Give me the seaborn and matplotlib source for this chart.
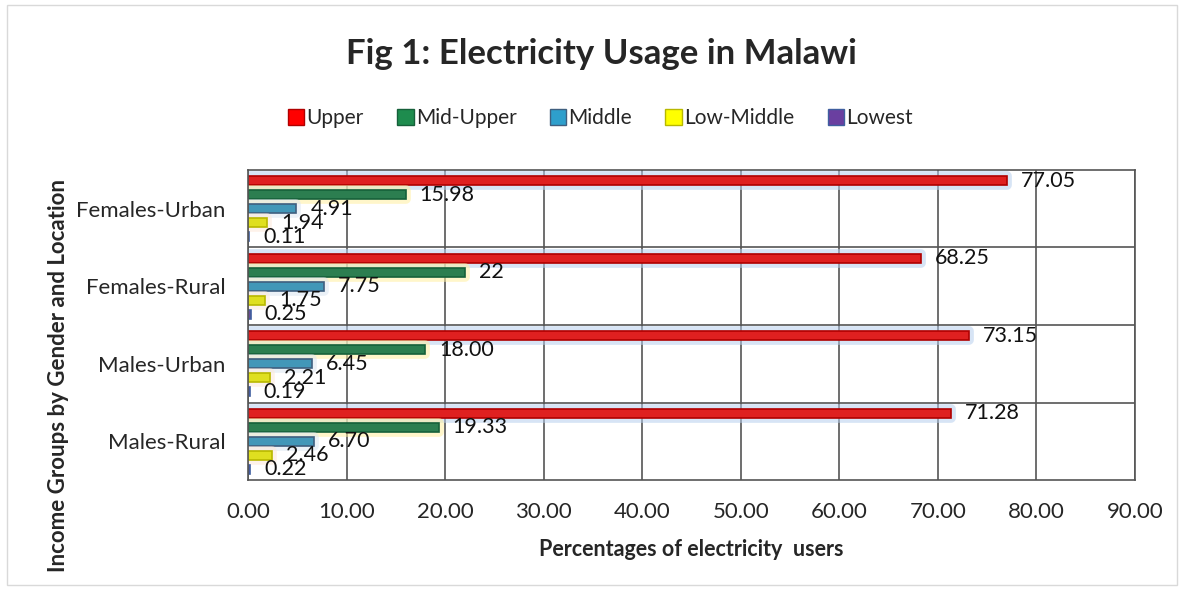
import pandas as pd
import seaborn as sns
import matplotlib.pyplot as plt
import matplotlib.patheffects as pe
from matplotlib.patches import Rectangle, Patch
from matplotlib.ticker import FormatStrFormatter, MultipleLocator

# Data
locations = ['Females-Urban', 'Females-Rural', 'Males-Urban', 'Males-Rural']
groups = ['Upper', 'Mid-Upper', 'Middle', 'Low-Middle', 'Lowest']
upper = [77.05, 68.25, 73.15, 71.28]
mid_upper = [15.98, 22.00, 18.00, 19.33]
middle = [4.91, 7.75, 6.45, 6.70]
low_middle = [1.94, 1.75, 2.21, 2.46]
lowest = [0.11, 0.25, 0.19, 0.22]
label_text = {
    'Upper': ['77.05', '68.25', '73.15', '71.28'],
    'Mid-Upper': ['15.98', '22', '18.00', '19.33'],
    'Middle': ['4.91', '7.75', '6.45', '6.70'],
    'Low-Middle': ['1.94', '1.75', '2.21', '2.46'],
    'Lowest': ['0.11', '0.25', '0.19', '0.22'],
}

colors = ['#FF0000', '#1E8C4E', '#2E9FCC', '#FFFF00', '#6A3FA0']
edges = ['#B00000', '#16603A', '#3F5F7F', '#B8B800', '#3F5F9F']
glows = ['#B7CFEE', '#FFF0A0', '#DCE6F2', '#FDE9D9', None]

# Long format table
rows = []
for g, vals in zip(groups, [upper, mid_upper, middle, low_middle, lowest]):
    for loc, v in zip(locations, vals):
        rows.append({'Location': loc, 'Group': g, 'Value': v})
df = pd.DataFrame(rows)

sns.set_style('white')
plt.rcParams['font.family'] = ['Lato', 'DejaVu Sans']

fig = plt.figure(figsize=(11.84, 5.90), dpi=100)
ax = fig.add_axes([0.2095, 0.1864, 0.9586 - 0.2095, 0.7119 - 0.1864])

sns.barplot(data=df, y='Location', x='Value', hue='Group', order=locations,
            hue_order=groups, palette=colors, orient='h', width=0.9, gap=0.35,
            legend=False, ax=ax)

# bar edges, soft glow and value labels per group
for cont, ec, gl, g in zip(ax.containers, edges, glows, groups):
    for p in cont:
        p.set_edgecolor(ec)
        p.set_linewidth(1.2)
        if gl is not None:
            p.set_path_effects([
                pe.Stroke(linewidth=7, foreground=gl, alpha=0.55,
                          joinstyle='round'),
                pe.Normal()])
    ax.bar_label(cont, labels=label_text[g], padding=10, fontsize=15.5,
                 color='#111111')

ax.set_xlim(0, 90)
ax.set_ylim(3.5, -0.5)
ax.xaxis.set_major_locator(MultipleLocator(10))
ax.xaxis.set_major_formatter(FormatStrFormatter('%.2f'))
ax.tick_params(axis='x', labelsize=16, length=0, pad=16)
ax.tick_params(axis='y', labelsize=16, length=0, pad=16)

# grid: vertical at ticks, horizontal between categories
ax.grid(axis='x', color='#555555', linewidth=1.2)
for yb in [0.5, 1.5, 2.5]:
    ax.axhline(yb, color='#555555', linewidth=1.2, zorder=0)
ax.set_axisbelow(True)
for s in ax.spines.values():
    s.set_visible(True)
    s.set_color('#555555')
    s.set_linewidth(1.2)

ax.set_xlabel('Percentages of electricity  users', fontsize=15.5,
              fontweight='bold', labelpad=12)
ax.set_ylabel('')
fig.text(0.049, 0.364, 'Income Groups by Gender and Location', fontsize=16,
         fontweight='bold', rotation=90, ha='center', va='center')

fig.suptitle('Fig 1: Electricity Usage in Malawi', fontsize=25,
             fontweight='bold', y=0.935, x=0.508)

handles = [Patch(facecolor=c, edgecolor=e) for c, e in zip(colors, edges)]
fig.legend(handles, groups, loc='center', bbox_to_anchor=(0.507, 0.80),
           ncol=5, frameon=False, fontsize=15, handlelength=0.8,
           handleheight=0.8, handletextpad=0.1, columnspacing=1.6)

# outer chart border
fig.patches.append(Rectangle((0.006, 0.008), 0.988, 0.984,
                             transform=fig.transFigure, fill=False,
                             edgecolor='#D9D9D9', linewidth=1))

fig.savefig('out.png', dpi=100)
